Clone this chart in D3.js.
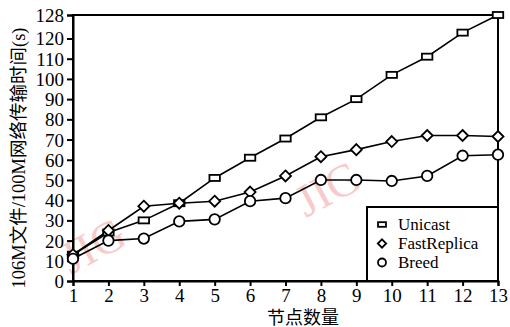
<!DOCTYPE html>
<html>
<head>
<meta charset="utf-8">
<script src="https://cdn.jsdelivr.net/npm/d3@7"></script>
<style>
  body { margin: 0; background: #fff; }
  text { font-family: "Liberation Serif", "Times New Roman", serif; }
  .cjk { font-family: "Liberation Serif", "Noto Sans CJK SC", serif; }
</style>
</head>
<body>
<svg id="chart" width="510" height="327"></svg>
<script>
// node counts on the x axis
const nodes = [1, 2, 3, 4, 5, 6, 7, 8, 9, 10, 11, 12, 13];
// transfer time (s) for each scheme
const unicast = [13, 24, 30, 38.5, 51, 61, 70.5, 81, 90, 102, 111, 122, 128];
const fastReplica = [13, 25, 37, 38.5, 39.5, 44, 52, 61.5, 65, 69, 72, 72, 71.5];
const breed = [11, 20, 21, 29.5, 30.5, 39.5, 41, 50, 50, 49.5, 52, 62, 62.5];
const yTicks = [0, 10, 20, 30, 40, 50, 60, 70, 80, 90, 100, 110, 120, 128];
const seriesNames = ["Unicast", "FastReplica", "Breed"];
const shapes = ["rect", "diamond", "circle"];

const width = 510, height = 327;
const margin = { left: 73, right: 12, top: 15, bottom: 46 };
const svg = d3.select("#chart");

const x = d3.scaleLinear()
  .domain([1, 13])
  .range([margin.left, width - margin.right]);

// the top tick (128) sits at the frame top, a bit further than the 10-step spacing
const y = d3.scaleLinear()
  .domain([0, 120, 128])
  .range([height - margin.bottom, 38.5, margin.top]);

/* ========== WATERMARK ========== */
[[95, 250], [330, 193]].forEach(p => {
  svg.append("text")
    .attr("transform", `translate(${p[0]},${p[1]}) rotate(-28)`)
    .attr("text-anchor", "middle")
    .attr("dominant-baseline", "middle")
    .style("font-size", "46px")
    .attr("fill", "#f4a8a8")
    .attr("opacity", 0.6)
    .text("JIG");
});

/* ========== FRAME + AXES ========== */
svg.append("rect")
  .attr("x", x(1)).attr("y", y(128))
  .attr("width", x(13) - x(1)).attr("height", y(0) - y(128))
  .attr("fill", "none").attr("stroke", "#000").attr("stroke-width", 2);

const xAxis = svg.append("g")
  .attr("transform", `translate(0,${y(0)})`)
  .call(d3.axisBottom(x).tickValues(nodes).tickFormat(d3.format("d")).tickSize(5).tickPadding(3));
const yAxis = svg.append("g")
  .attr("transform", `translate(${x(1)},0)`)
  .call(d3.axisLeft(y).tickValues(yTicks).tickSize(6).tickPadding(3));

[xAxis, yAxis].forEach(g => {
  g.select(".domain").attr("stroke-width", 2);
  g.selectAll(".tick line").attr("stroke-width", 2);
  g.selectAll(".tick text")
    .style("font-family", "'Liberation Serif', serif")
    .style("font-size", "19px")
    .attr("fill", "#000");
});
yAxis.selectAll(".tick text").attr("dy", "0.34em");

svg.append("text")
  .attr("class", "cjk")
  .attr("x", 303).attr("y", 324)
  .attr("text-anchor", "middle")
  .style("font-size", "18px")
  .text("节点数量");

svg.append("text")
  .attr("class", "cjk")
  .attr("transform", "translate(25,158) rotate(-90)")
  .attr("text-anchor", "middle")
  .style("font-size", "18.5px")
  .text("106M文件/100M网络传输时间(s)");

/* ========== LINES + MARKERS ========== */
const allSeries = [unicast, fastReplica, breed];
const lineGen = d3.line().x((d, i) => x(nodes[i])).y(d => y(d));

function drawMarker(g, shape, cx, cy, s) {
  if (shape === "rect") {
    g.append("rect").attr("x", cx - s * 0.95).attr("y", cy - s * 0.55)
      .attr("width", s * 1.9).attr("height", s * 1.1);
  } else if (shape === "diamond") {
    g.append("path").attr("d", `M${cx},${cy - s}L${cx + s},${cy}L${cx},${cy + s}L${cx - s},${cy}Z`);
  } else {
    g.append("circle").attr("cx", cx).attr("cy", cy).attr("r", s * 0.95);
  }
}

allSeries.forEach((vals, k) => {
  svg.append("path")
    .attr("d", lineGen(vals))
    .attr("fill", "none").attr("stroke", "#000").attr("stroke-width", 1.6);
});
allSeries.forEach((vals, k) => {
  const g = svg.append("g").attr("fill", "#fff").attr("stroke", "#000").attr("stroke-width", 1.8);
  vals.forEach((v, i) => drawMarker(g, shapes[k], x(nodes[i]), y(v), 5.5));
});

/* ========== LEGEND ========== */
const legend = svg.append("g");
legend.append("rect")
  .attr("x", 367).attr("y", 207)
  .attr("width", x(13) - 367).attr("height", y(0) - 207)
  .attr("fill", "#fff").attr("stroke", "#000").attr("stroke-width", 2);
seriesNames.forEach((name, k) => {
  const ly = 224.5 + k * 19;
  const g = legend.append("g").attr("fill", "#fff").attr("stroke", "#000").attr("stroke-width", 1.8);
  drawMarker(g, shapes[k], 382, ly, 4.2);
  legend.append("text")
    .attr("x", 398).attr("y", ly)
    .attr("dy", "0.34em")
    .style("font-size", "17px")
    .text(name);
});
</script>
</body>
</html>
